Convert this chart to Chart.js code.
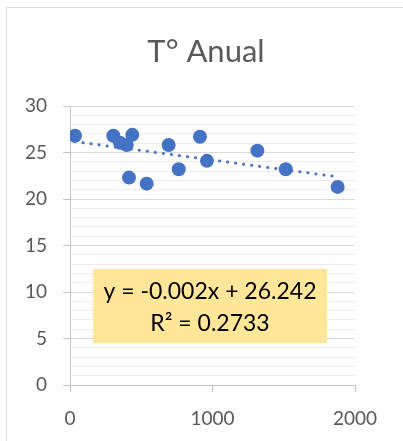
<!DOCTYPE html>
<html>
<head>
<meta charset="utf-8">
<script src="https://cdn.jsdelivr.net/npm/chart.js@4.4.1/dist/chart.umd.min.js"></script>
<style>
html,body{margin:0;padding:0;background:#fff;}
#wrap{position:relative;width:403px;height:441px;}
</style>
</head>
<body>
<div id="wrap"><canvas id="c" width="403" height="441"></canvas></div>
<script>
// ---- data ----
const chartTitle = 'T° Anual';
const altitudes = [35, 304, 351, 398, 437, 414, 538, 692, 763, 912, 961, 1315, 1514, 1878];
const temps     = [26.8, 26.8, 26.05, 25.8, 26.9, 22.3, 21.65, 25.8, 23.2, 26.7, 24.1, 25.2, 23.2, 21.3];
const xTicks = [0, 1000, 2000];
const yTicks = [0, 5, 10, 15, 20, 25, 30];
const equationLines = ['y = -0.002x + 26.242', 'R² = 0.2733'];

// least-squares trend line from the data
const n = altitudes.length;
const mx = altitudes.reduce((a,b)=>a+b,0)/n;
const my = temps.reduce((a,b)=>a+b,0)/n;
let sxy=0, sxx=0;
for(let i=0;i<n;i++){sxy+=(altitudes[i]-mx)*(temps[i]-my);sxx+=(altitudes[i]-mx)**2;}
const slope = sxy/sxx, intercept = my - slope*mx;
const xMin = Math.min(...altitudes), xMax = Math.max(...altitudes);
const trend = [{x:xMin,y:intercept+slope*xMin},{x:xMax,y:intercept+slope*xMax}];

const points = altitudes.map((x,i)=>({x:x,y:temps[i]}));
const FONT = 'Lato, "Open Sans", sans-serif';
const BLUE = '#4472C4';
const AXIS = '#c4c4c4';

const frame = {
  id:'frame',
  beforeDraw(chart){
    const ctx = chart.ctx;
    ctx.save();
    ctx.strokeStyle = '#d9d9d9';
    ctx.lineWidth = 1;
    ctx.beginPath();
    ctx.moveTo(6.5, 441);
    ctx.lineTo(6.5, 7.5);
    ctx.lineTo(403, 7.5);
    ctx.stroke();
    ctx.fillStyle = '#595959';
    ctx.font = '31px ' + FONT;
    ctx.textAlign = 'center';
    ctx.textBaseline = 'middle';
    ctx.fillText(chartTitle, 206, 52);
    ctx.restore();
  }
};

const labelBox = {
  id:'labelBox',
  afterDraw(chart){
    const ctx = chart.ctx, a = chart.chartArea;
    const left = a.left + 23, top = a.top + 163, w = 234, h = 74;
    ctx.save();
    ctx.fillStyle = '#FFE699';
    ctx.fillRect(left, top, w, h);
    ctx.fillStyle = '#000';
    ctx.font = '23px ' + FONT;
    ctx.textAlign = 'center';
    ctx.textBaseline = 'middle';
    ctx.fillText(equationLines[0], left + w/2, top + 23);
    ctx.fillText(equationLines[1], left + w/2, top + 55);
    ctx.restore();
  }
};

new Chart(document.getElementById('c'), {
  type:'scatter',
  data:{
    datasets:[
      {type:'scatter', data:points, backgroundColor:BLUE, borderColor:BLUE, borderWidth:0, pointRadius:7, pointHoverRadius:7, order:0},
      {type:'line', data:trend, borderColor:BLUE, borderWidth:3, borderDash:[0.1,8], borderCapStyle:'round', pointRadius:0, fill:false, order:1}
    ]
  },
  options:{
    responsive:false,
    animation:false,
    devicePixelRatio:1,
    layout:{padding:{left:0,right:48,top:106,bottom:0}},
    plugins:{
      legend:{display:false},
      tooltip:{enabled:false},
      title:{display:false}
    },
    scales:{
      x:{
        type:'linear', min:0, max:2000,
        afterBuildTicks(s){ s.ticks = xTicks.map(v=>({value:v})); },
        afterFit(s){ s.height = 56; },
        grid:{drawOnChartArea:false, drawTicks:true, tickLength:7, color:AXIS},
        border:{color:AXIS},
        ticks:{color:'#595959', padding:15, font:{family:FONT, size:19}, maxRotation:0, autoSkip:false, callback:(v)=>String(v)}
      },
      y:{
        type:'linear', min:0, max:30,
        afterBuildTicks(s){ const t=[]; for(let v=0; v<=30; v++) t.push({value:v}); s.ticks=t; },
        afterFit(s){ s.width = 70; },
        grid:{
          color:(c)=> (c.tick && yTicks.includes(c.tick.value)) ? '#d9d9d9' : '#ececec',
          tickColor:(c)=> (c.tick && yTicks.includes(c.tick.value)) ? AXIS : 'rgba(0,0,0,0)',
          tickLength:7
        },
        border:{color:AXIS},
        ticks:{
          color:'#595959', padding:16, font:{family:FONT, size:19}, autoSkip:false,
          callback:(v)=> yTicks.includes(v) ? String(v) : ''
        }
      }
    }
  },
  plugins:[frame, labelBox]
});
</script>
</body>
</html>
